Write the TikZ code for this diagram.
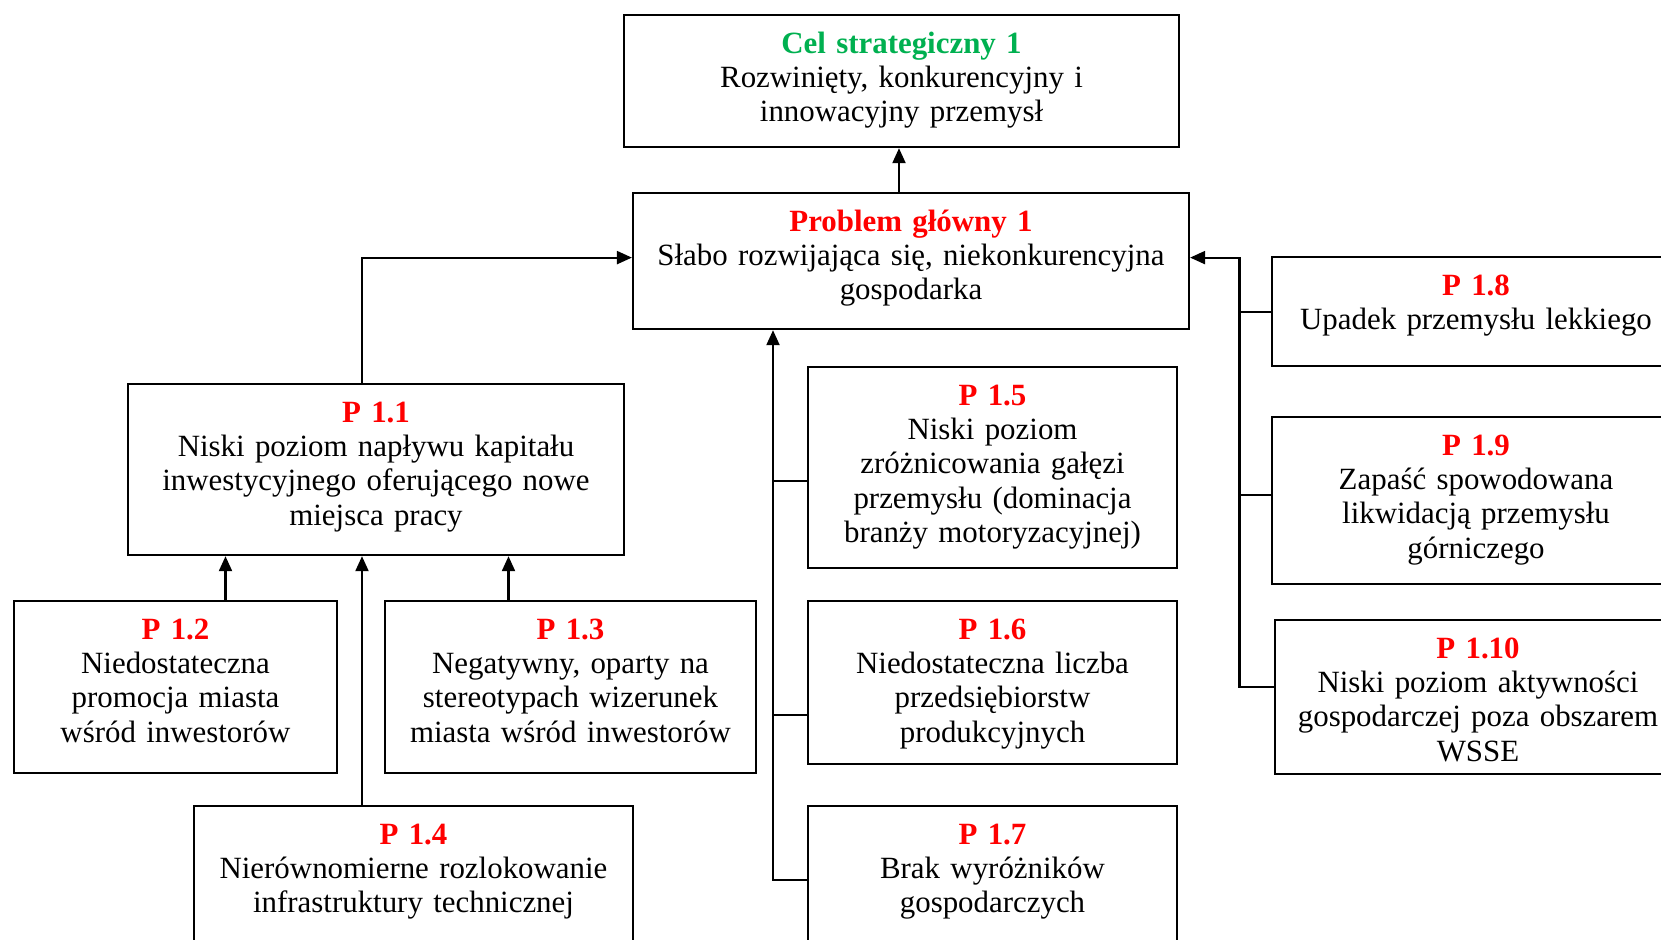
\documentclass[tikz,border=0pt]{standalone}
\usepackage{fontspec}
\setmainfont{Liberation Serif}
\usetikzlibrary{arrows.meta}
\definecolor{celgreen}{RGB}{0,176,80}
\definecolor{probred}{RGB}{255,0,0}
\newcommand{\ptitle}[1]{\textcolor{probred}{\textbf{#1}}}
\newcommand{\boxfont}{\fontsize{30.9}{34.4}\selectfont\frenchspacing
    \spaceskip=6.4pt plus 3pt minus 2pt\relax}

\begin{document}
\begin{tikzpicture}[x=1pt,y=-1pt,
        font=\boxfont,
        pbox/.style={draw,line width=2.2pt,anchor=north,align=center,
            inner xsep=0pt,inner ysep=0pt,text height=38pt},
        link/.style={line width=2.2pt},
        arr/.style={link,-{Triangle[length=15pt,width=13pt]}},
        ]
        \useasboundingbox (0,0) rectangle (1661,939);
        \clip (0,0) rectangle (1661,939);

        \node[pbox,text width=555pt,text depth=94pt] (cel) at (901.5,14)
            {\textcolor{celgreen}{\textbf{Cel strategiczny 1}}\\Rozwinięty, konkurencyjny i\\innowacyjny przemysł};
        \node[pbox,text width=556pt,text depth=98pt] (prob) at (911,192)
            {\ptitle{Problem główny 1}\\Słabo rozwijająca się, niekonkurencyjna\\gospodarka};

        \node[pbox,text width=496pt,text depth=133pt] (p11) at (376,383)
            {\ptitle{P 1.1}\\Niski poziom napływu kapitału\\inwestycyjnego oferującego nowe\\miejsca pracy};
        \node[pbox,text width=323pt,text depth=134pt] (p12) at (175.5,600)
            {\ptitle{P 1.2}\\Niedostateczna\\promocja miasta\\wśród inwestorów};
        \node[pbox,text width=371pt,text depth=134pt] (p13) at (570.5,600)
            {\ptitle{P 1.3}\\Negatywny, oparty na\\stereotypach wizerunek\\miasta wśród inwestorów};
        \node[pbox,text width=439pt,text depth=157pt] (p14) at (413.5,805)
            {\ptitle{P 1.4}\\Nierównomierne rozlokowanie\\infrastruktury technicznej};

        \node[pbox,text width=369pt,text depth=163pt] (p15) at (992.5,366)
            {\ptitle{P 1.5}\\Niski poziom\\zróżnicowania gałęzi\\przemysłu (dominacja\\branży motoryzacyjnej)};
        \node[pbox,text width=369pt,text depth=125pt] (p16) at (992.5,600)
            {\ptitle{P 1.6}\\Niedostateczna liczba\\przedsiębiorstw\\produkcyjnych};
        \node[pbox,text width=369pt,text depth=157pt] (p17) at (992.5,805)
            {\ptitle{P 1.7}\\Brak wyróżników\\gospodarczych};

        \node[pbox,text width=408pt,text depth=71pt] (p18) at (1476,256)
            {\ptitle{P 1.8}\\Upadek przemysłu lekkiego};
        \node[pbox,text width=408pt,text depth=129pt] (p19) at (1476,416)
            {\ptitle{P 1.9}\\Zapaść spowodowana\\likwidacją przemysłu\\górniczego};
        \node[pbox,text width=406pt,text depth=116pt] (p110) at (1478,619)
            {\ptitle{P 1.10}\\Niski poziom aktywności\\gospodarczej poza obszarem\\WSSE};

        \draw[arr] ([xshift=-2.5pt]cel.south |- prob.north) -- ([xshift=-2.5pt]cel.south);

        \draw[arr] ([xshift=-14pt]p11.north) |- ([yshift=3.5pt]prob.west);
        \draw[arr] ([xshift=50pt]p12.north) -- ([xshift=50pt]p12.north |- p11.south);
        \draw[arr] ([xshift=-51.5pt]p14.north) -- ([xshift=-51.5pt]p14.north |- p11.south);
        \draw[arr] ([xshift=-62pt]p13.north) -- ([xshift=-62pt]p13.north |- p11.south);

        \coordinate (trunk) at ([xshift=-138pt]prob.south);
        \coordinate (b15) at ([yshift=-13.5pt]p15.west);
        \coordinate (b16) at ([yshift=-32pt]p16.west);
        \coordinate (b17) at ([yshift=24pt]p17.west);
        \draw[arr] (b17) -| (trunk);
        \draw[link] (b15) -- (b15 -| trunk);
        \draw[link] (b16) -- (b16 -| trunk);

        \coordinate (rbus) at ([xshift=-31.5pt]p18.west);
        \coordinate (b19) at ([yshift=5.5pt]p19.west);
        \coordinate (b110) at ([yshift=10pt]p110.west);
        \draw[arr] (b110) -| (rbus) |- ([yshift=3.5pt]prob.east);
        \draw[link] (p18.west) -- (rbus);
        \draw[link] (b19) -- (b19 -| rbus);
\end{tikzpicture}
\end{document}
